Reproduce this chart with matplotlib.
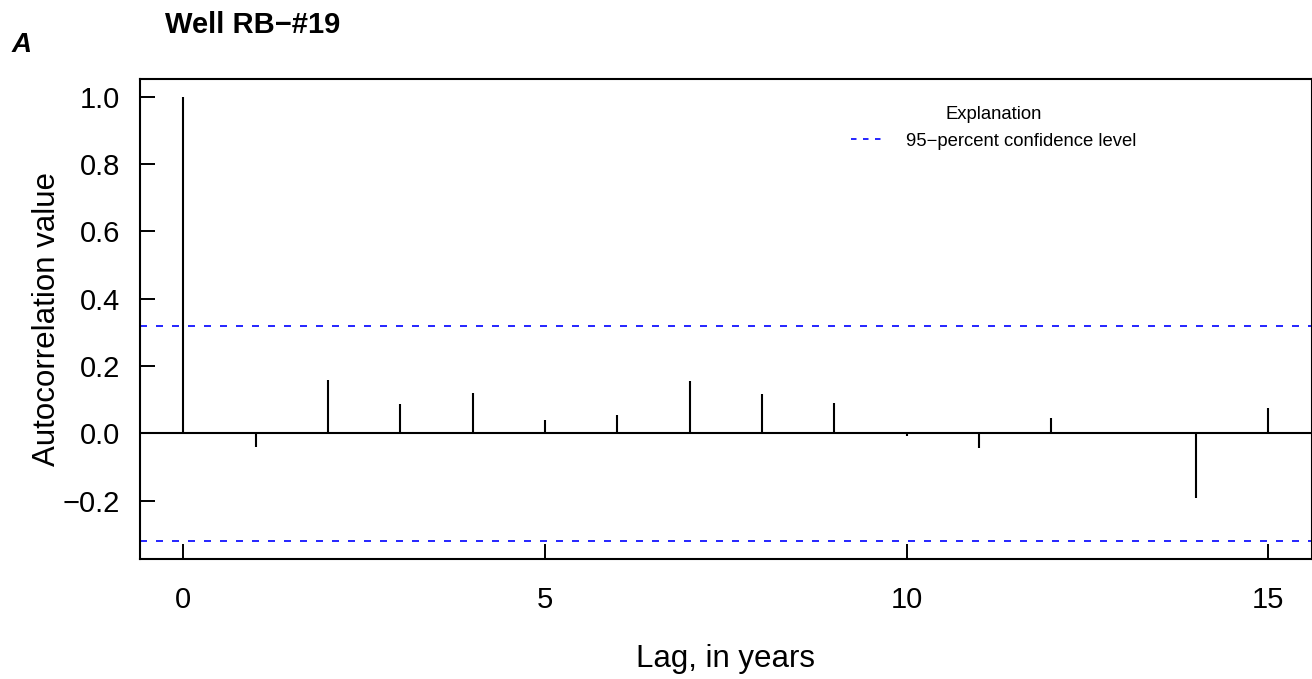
import matplotlib
matplotlib.use("Agg")
import matplotlib.pyplot as plt
import numpy as np

# autocorrelation by lag (years)
lags = list(range(16))
acf = [1.0, -0.039, 0.160, 0.089, 0.119, 0.040, 0.055, 0.156,
       0.117, 0.092, -0.008, -0.042, 0.045, 0.005, -0.192, 0.077]
conf = 0.319
xticks = [0, 5, 10, 15]
yticks = [-0.2, 0.0, 0.2, 0.4, 0.6, 0.8, 1.0]

plt.rcParams["font.family"] = ["Liberation Sans", "DejaVu Sans"]

W, H = 1312, 679
fig = plt.figure(figsize=(W / 100, H / 100), dpi=100)
L, R, T, B = 140, 1311.5, 79, 559
ax = fig.add_axes([L / W, 1 - B / H, (R - L) / W, (B - T) / H])

ax.vlines(lags, 0, acf, color="black", lw=1.5)
ax.axhline(0, color="black", lw=1.5)
blue = "#0000FF"
ax.axhline(conf, color=blue, lw=1.2, dashes=(4.2, 5.4),
           label="95\u2212percent confidence level")
ax.axhline(-conf, color=blue, lw=1.2, dashes=(4.2, 5.4))

ax.set_xlim(-0.6, 15.6)
ax.set_ylim(-0.3728, 1.0528)
ax.set_xticks(xticks)
ax.set_yticks(yticks)
ax.set_yticklabels([f"{v:.1f}".replace("-", "\u2212") for v in yticks])
ax.tick_params(direction="in", length=10.8, width=1.4, labelsize=21)
ax.tick_params(axis="x", pad=19.5)
ax.tick_params(axis="y", pad=14.5)
for s in ax.spines.values():
    s.set_linewidth(1.5)

leg = ax.legend(title="Explanation", loc="center", frameon=False,
                bbox_to_anchor=(993.5 / W, 1 - 128 / H),
                bbox_transform=fig.transFigure, fontsize=13.3,
                title_fontsize=13.3, handlelength=1.7, handletextpad=1.25,
                borderpad=0, borderaxespad=0)
# the legend key uses a finer dash than the plotted lines
leg.get_lines()[0].set_dashes((3.3, 3.9))

fig.text(726 / W, 1 - 666.7 / H, "Lag, in years", ha="center", va="baseline", fontsize=22.5)
fig.text(47 / W, 1 - 319 / H, "Autocorrelation value", ha="center", va="center",
         rotation=90, fontsize=22.5)
fig.text(165 / W, 1 - 33 / H, "Well RB\u2212#19", ha="left", va="baseline",
         fontsize=21, fontweight="bold")
fig.text(12 / W, 1 - 52 / H, "A", ha="left", va="baseline", fontsize=20,
         fontweight="bold", fontstyle="italic")

fig.savefig("out.png", dpi=100)
